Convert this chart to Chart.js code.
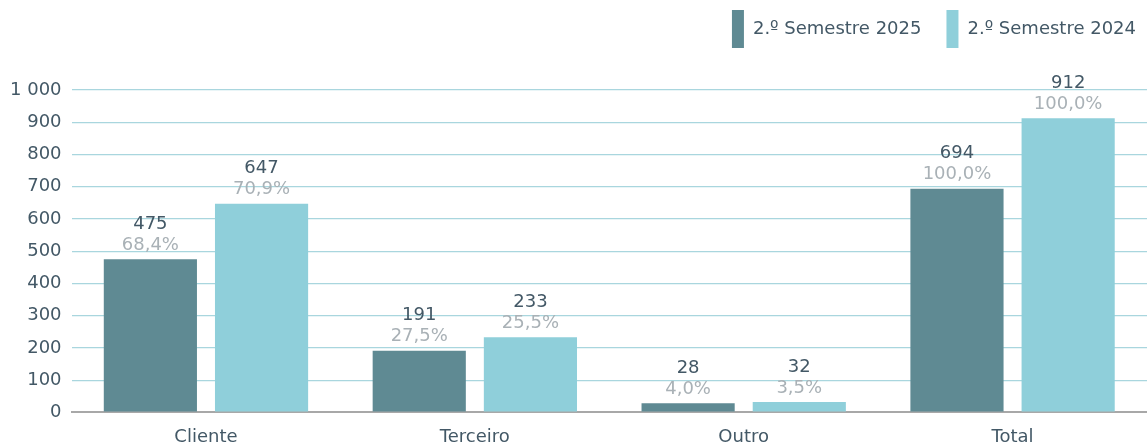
<!DOCTYPE html>
<html>
<head>
<meta charset="utf-8">
<script src="https://cdn.jsdelivr.net/npm/chart.js@4/dist/chart.umd.min.js"></script>
<style>
html,body{margin:0;padding:0;background:#fff;}
#wrap{width:1147px;height:446px;position:relative;}
</style>
</head>
<body>
<div id="wrap"><canvas id="c" width="1147" height="446"></canvas></div>
<script>
const categories = ["Cliente", "Terceiro", "Outro", "Total"];
const series2025 = [475, 191, 28, 694];
const series2024 = [647, 233, 32, 912];
const pct2025 = [68.4, 27.5, 4.0, 100.0];
const pct2024 = [70.9, 25.5, 3.5, 100.0];
const seriesNames = ["2.º Semestre 2025", "2.º Semestre 2024"];
const yTicks = [0, 100, 200, 300, 400, 500, 600, 700, 800, 900, 1000];

const FONT = "'DejaVu Sans', sans-serif";
const DARK = "#435866";
const GREY = "#a9b1b6";

const labelPlugin = {
  id: 'valueLabels',
  afterDatasetsDraw(chart) {
    const ctx = chart.ctx;
    const pcts = [pct2025, pct2024];
    chart.data.datasets.forEach((ds, di) => {
      const meta = chart.getDatasetMeta(di);
      meta.data.forEach((bar, i) => {
        ctx.save();
        ctx.textAlign = 'center';
        ctx.textBaseline = 'middle';
        ctx.font = "18px " + FONT;
        ctx.fillStyle = DARK;
        ctx.fillText(String(ds.data[i]), bar.x, bar.y - 35);
        ctx.fillStyle = GREY;
        ctx.fillText(pcts[di][i].toFixed(1).replace('.', ',') + '%', bar.x, bar.y - 14);
        ctx.restore();
      });
    });
  }
};

const legendSpace = {
  id: 'legendSpace',
  afterInit(chart) {
    const lg = chart.legend;
    if (!lg) return;
    const orig = lg.fit;
    lg.fit = function () { orig.call(this); this.height += 32; };
  },
  afterLayout(chart) {
    const lg = chart.legend;
    if (!lg) return;
    lg.left += 14;
    lg.right += 14;
  }
};

new Chart(document.getElementById('c'), {
  type: 'bar',
  data: {
    labels: categories,
    datasets: [
      { label: seriesNames[0], data: series2025, backgroundColor: '#5f8a93' },
      { label: seriesNames[1], data: series2024, backgroundColor: '#8fcfda' }
    ]
  },
  options: {
    responsive: false,
    animation: false,
    layout: { padding: { left: 0, right: 0, top: -15, bottom: -16 } },
    datasets: { bar: { categoryPercentage: 0.827, barPercentage: 0.838 } },
    plugins: {
      legend: {
        align: 'end',
        labels: {
          boxWidth: 12, boxHeight: 38, padding: 25,
          color: DARK,
          font: { family: FONT, size: 18 }
        }
      },
      tooltip: { enabled: false }
    },
    scales: {
      x: {
        grid: { display: false, drawTicks: false },
        border: { color: '#a8a8a8', width: 2 },
        ticks: { color: DARK, font: { family: FONT, size: 18 }, padding: 14 }
      },
      y: {
        min: 0, max: 1000,
        afterBuildTicks(axis) { axis.ticks = yTicks.map(v => ({ value: v })); },
        grid: {
          color: (c) => c.tick && c.tick.value === 0 ? '#a8a8a8' : '#a9d6de',
          lineWidth: (c) => c.tick && c.tick.value === 0 ? 2 : 1.2,
          drawTicks: false
        },
        border: { display: false },
        ticks: {
          color: DARK, font: { family: FONT, size: 18 }, padding: 10,
          callback: (v) => String(v).replace(/\B(?=(\d{3})+(?!\d))/g, ' ')
        }
      }
    }
  },
  plugins: [labelPlugin, legendSpace]
});
</script>
</body>
</html>
